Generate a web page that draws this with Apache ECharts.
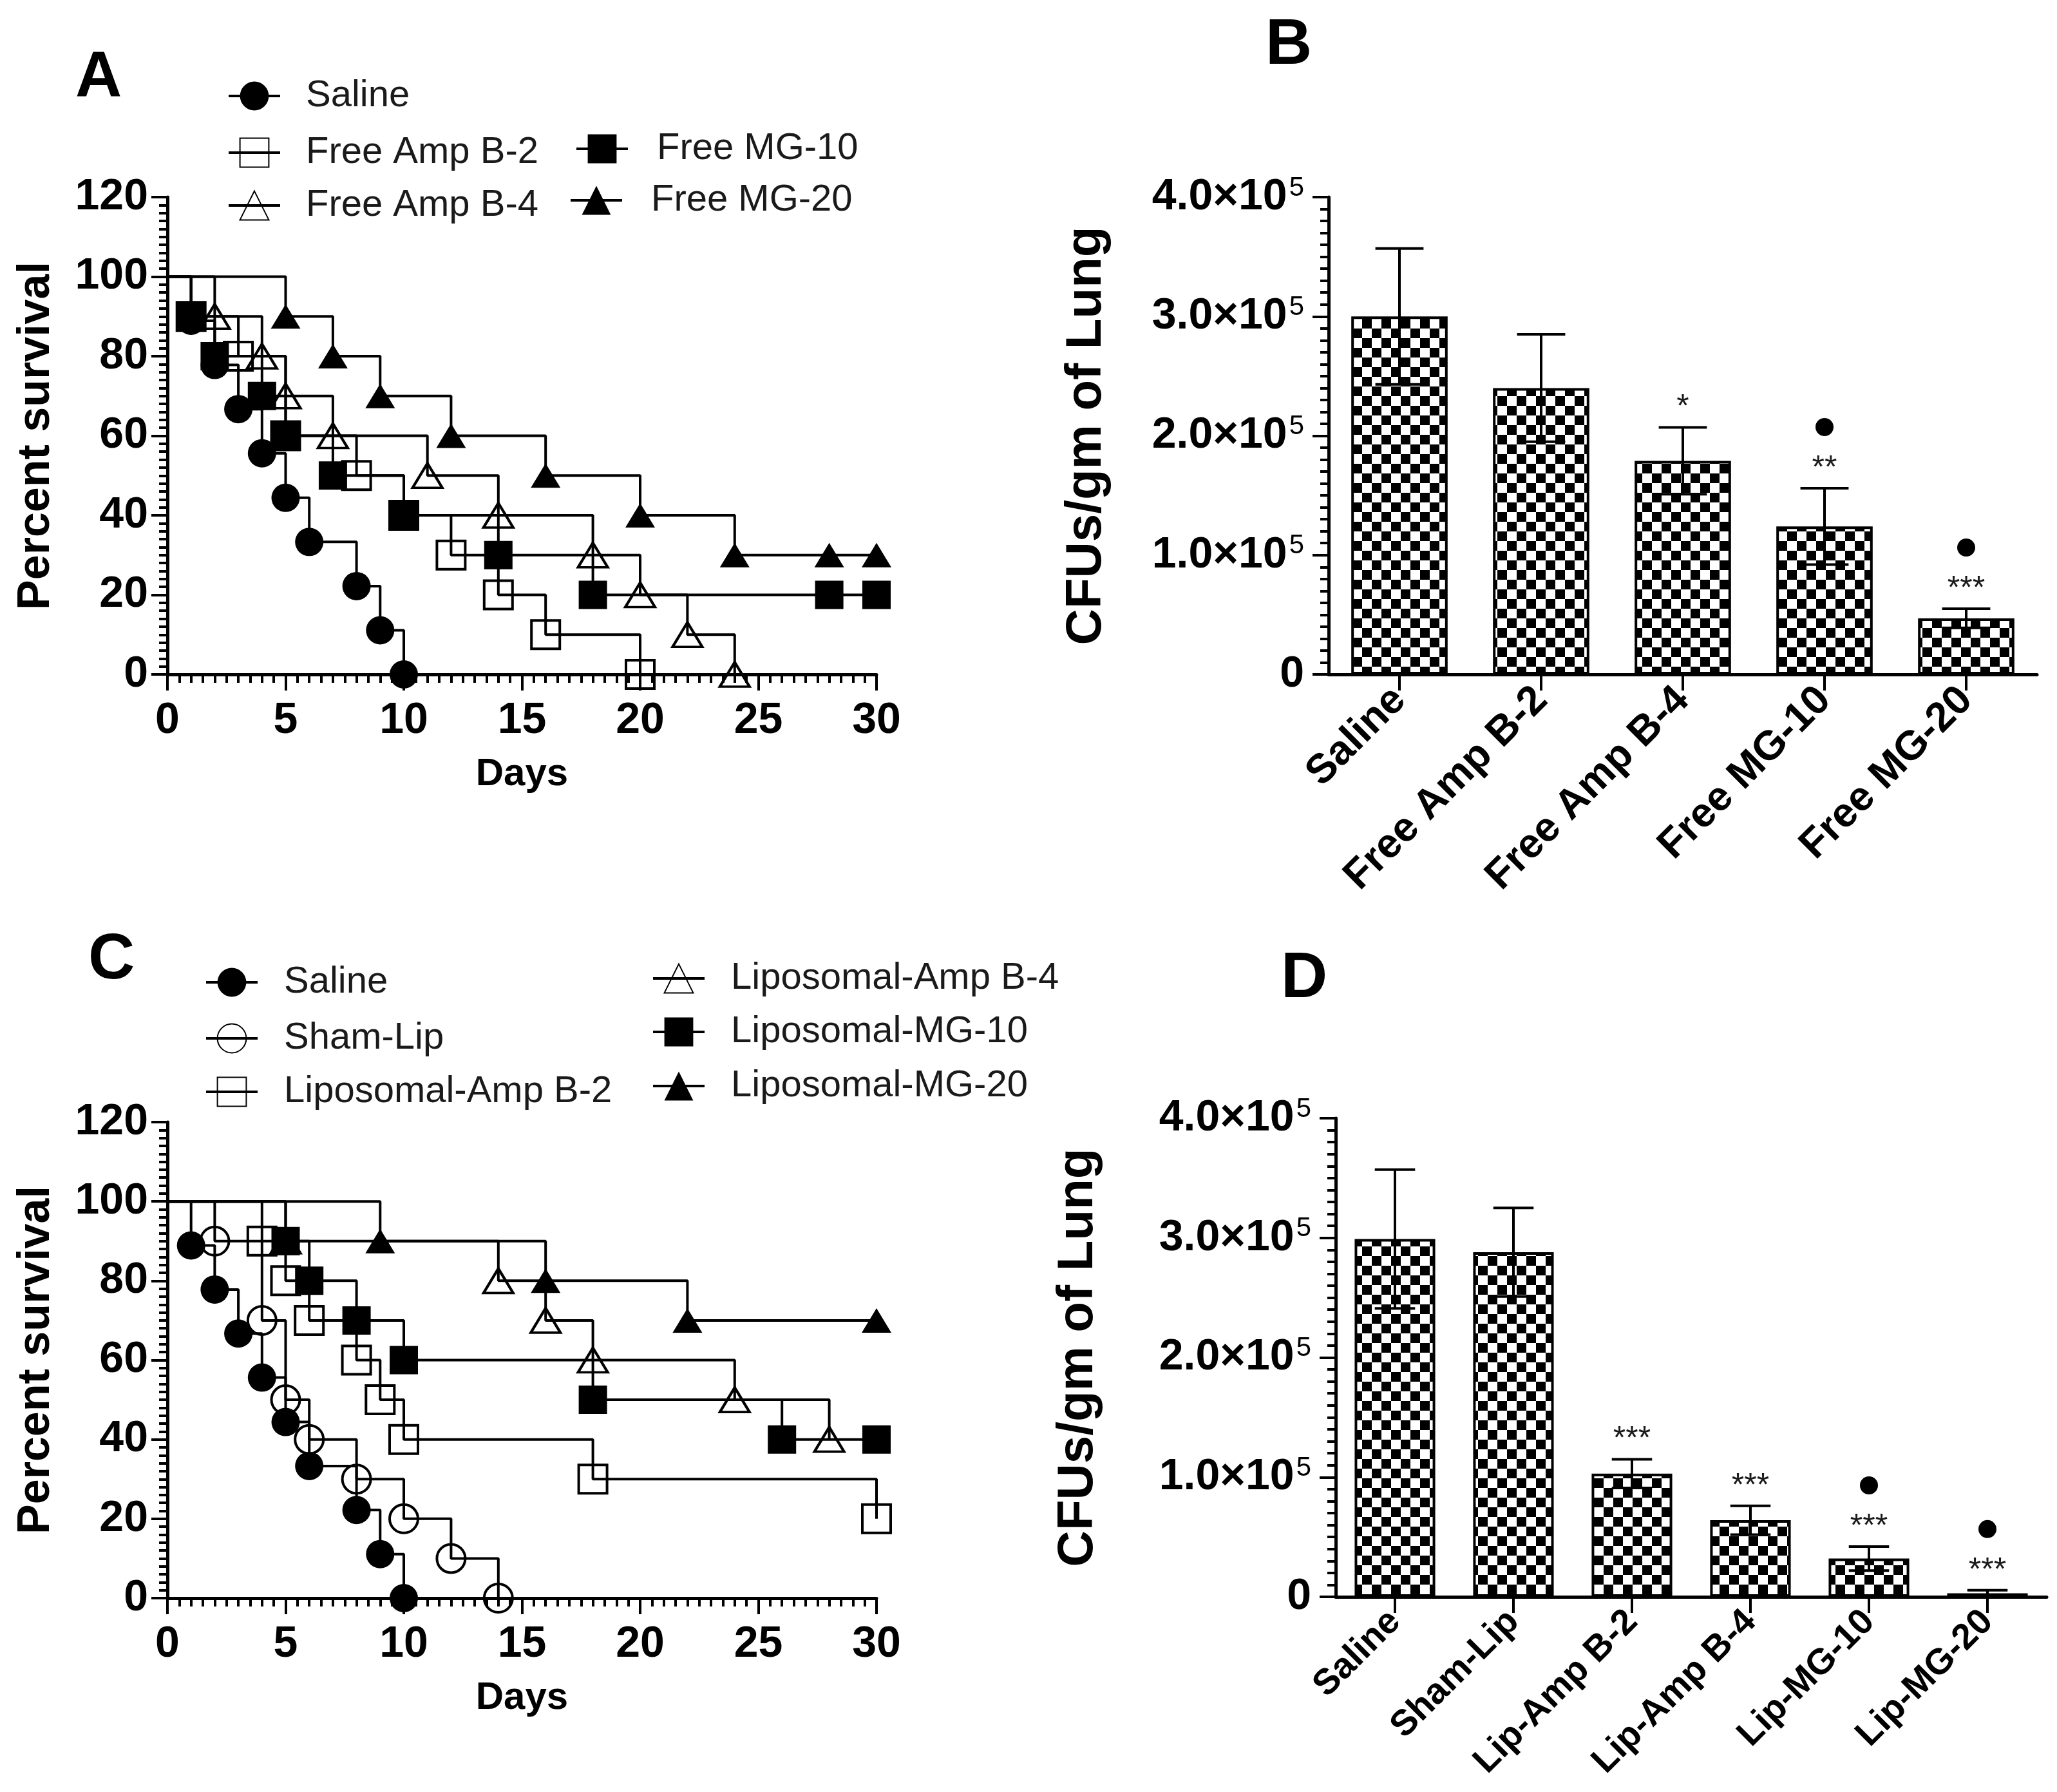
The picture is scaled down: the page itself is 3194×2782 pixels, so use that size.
<!DOCTYPE html>
<html><head><meta charset="utf-8">
<script src="https://cdn.jsdelivr.net/npm/echarts@6/dist/echarts.min.js"></script>
<style>html,body{margin:0;padding:0;background:#fff}#c{width:3194px;height:2782px}</style>
</head><body><div id="c"></div>
<script>
// ---------------- DATA ----------------
// Panel A: Kaplan-Meier survival (day, percent survival)
const A_saline   = [[0,100],[1,88.9],[2,77.8],[3,66.7],[4,55.6],[5,44.4],[6,33.3],[8,22.2],[9,11.1],[10,0]];
const A_freeAmpB2 = [[0,100],[1,90],[3,80],[5,60],[8,50],[10,40],[12,30],[14,20],[16,10],[20,0]];
const A_freeAmpB4 = [[0,100],[2,90],[4,80],[5,70],[7,60],[11,50],[14,40],[18,30],[20,20],[22,10],[24,0]];
const A_freeMG10  = [[0,100],[1,90],[2,80],[4,70],[5,60],[7,50],[10,40],[14,30],[18,20],[28,20],[30,20]];
const A_freeMG20  = [[0,100],[5,90],[7,80],[9,70],[12,60],[16,50],[20,40],[24,30],[28,30],[30,30]];
// Panel C
const C_saline    = [[0,100],[1,88.9],[2,77.8],[3,66.7],[4,55.6],[5,44.4],[6,33.3],[8,22.2],[9,11.1],[10,0]];
const C_shamLip   = [[0,100],[2,90],[4,70],[5,50],[6,40],[8,30],[10,20],[12,10],[14,0]];
const C_lipAmpB2  = [[0,100],[4,90],[5,80],[6,70],[8,60],[9,50],[10,40],[18,30],[30,20]];
const C_lipAmpB4  = [[0,100],[5,90],[14,80],[16,70],[18,60],[24,50],[28,40]];
const C_lipMG10   = [[0,100],[5,90],[6,80],[8,70],[10,60],[18,50],[26,40],[30,40]];
const C_lipMG20   = [[0,100],[9,90],[16,80],[22,70],[30,70]];
// Panel B: CFUs/gm of lung (mean, SEM)
const B_categories = ['Saline','Free Amp B-2','Free Amp B-4','Free MG-10','Free MG-20'];
const B_means  = [300000, 240000, 179000, 124000, 47000];
const B_errors = [57000, 45000, 28000, 32000, 8000];
const B_stars  = ['', '', '*', '**', '***'];
const B_dots   = [false, false, false, true, true];
// Panel D
const D_categories = ['Saline','Sham-Lip','Lip-Amp B-2','Lip-Amp B-4','Lip-MG-10','Lip-MG-20'];
const D_means  = [299000, 288000, 103000, 64000, 32000, 3000];
const D_errors = [58000, 37000, 12000, 12000, 10000, 2500];
const D_stars  = ['', '', '***', '***', '***', '***'];
const D_dots   = [false, false, false, false, true, true];
// Tick labels
const survXTicks = [0,5,10,15,20,25,30];
const survYTicks = [0,20,40,60,80,100,120];
const cfuTickMantissa = ['0','1.0×10','2.0×10','3.0×10','4.0×10'];
const cfuTickExponent = '5';

// ---------------- STYLE / BUILD ----------------
const FF = '"Liberation Sans", Arial, Helvetica, sans-serif';
const chart = echarts.init(document.getElementById('c'), null, {renderer:'canvas', width:3194, height:2782});

const pat = document.createElement('canvas');
pat.width = 30; pat.height = 30;
(function(){ const g = pat.getContext('2d'); g.fillStyle='#fff'; g.fillRect(0,0,30,30); g.fillStyle='#000'; g.fillRect(0,0,15,15); g.fillRect(15,15,15,15); })();

function km(name, data, sym, filled, ax) {
  return {
    type:'line', name, xAxisIndex:ax, yAxisIndex:ax, step:'end', clip:false,
    data: data.map((p,i)=> i===0 ? {value:p, symbol:'none'} : {value:p}),
    symbol: sym, symbolSize: sym==='triangle' ? [46,38] : 44,
    showAllSymbol:true,
    itemStyle: filled ? {color:'#000'} : {color:'rgba(255,255,255,0)', borderColor:'#000', borderWidth:4},
    lineStyle:{color:'#000', width:4},
    emphasis:{disabled:true}, animation:false
  };
}

function survX(grid, idx) {
  return {type:'value', gridIndex:grid, min:0, max:30, interval:5,
    axisLine:{show:true, onZero:false, lineStyle:{color:'#000', width:5}},
    axisTick:{show:true, length:25, lineStyle:{color:'#000', width:4}},
    minorTick:{show:true, splitNumber:10, length:13, lineStyle:{color:'#000', width:4}},
    splitLine:{show:false},
    axisLabel:{fontSize:68, fontWeight:'bold', color:'#000', fontFamily:FF, margin:38,
      formatter:v=> survXTicks.indexOf(v)>=0 ? String(v) : ''},
    name:'Days', nameLocation:'middle', nameGap:125,
    nameTextStyle:{fontSize:60, fontWeight:'bold', color:'#000', fontFamily:FF}};
}
function survY(grid) {
  return {type:'value', gridIndex:grid, min:0, max:120, interval:20,
    axisLine:{show:true, onZero:false, lineStyle:{color:'#000', width:5}},
    axisTick:{show:true, length:25, lineStyle:{color:'#000', width:4}},
    minorTick:{show:true, splitNumber:10, length:13, lineStyle:{color:'#000', width:4}},
    splitLine:{show:false},
    axisLabel:{fontSize:68, fontWeight:'bold', color:'#000', fontFamily:FF, margin:30,
      formatter:v=> survYTicks.indexOf(v)>=0 ? String(v) : ''},
    name:'Percent survival', nameLocation:'middle', nameGap:168,
    nameTextStyle:{fontSize:70, fontWeight:'bold', color:'#000', fontFamily:FF}};
}
function catX(grid, cats, fs) {
  return {type:'category', gridIndex:grid, data:cats,
    axisLine:{show:true, lineStyle:{color:'#000', width:5}},
    axisTick:{show:true, alignWithLabel:true, length:25, lineStyle:{color:'#000', width:4}},
    axisLabel:{rotate:45, interval:0, fontSize:fs, fontWeight:'bold', color:'#000', fontFamily:FF, margin:30},
    splitLine:{show:false}};
}
function cfuY(grid, gap) {
  return {type:'value', gridIndex:grid, min:0, max:400000, interval:100000,
    axisLine:{show:true, onZero:false, lineStyle:{color:'#000', width:5}},
    axisTick:{show:true, length:25, lineStyle:{color:'#000', width:4}},
    minorTick:{show:true, splitNumber:10, length:13, lineStyle:{color:'#000', width:4}},
    splitLine:{show:false},
    axisLabel:{margin:38, color:'#000', fontFamily:FF,
      formatter:v=>{ const i=Math.round(v/100000); return i===0 ? '{m|0}' : '{m|'+cfuTickMantissa[i]+'}{s|'+cfuTickExponent+'}'; },
      rich:{m:{fontSize:68, fontWeight:'bold', color:'#000', fontFamily:FF, lineHeight:70},
            s:{fontSize:42, fontWeight:'normal', color:'#000', fontFamily:FF, verticalAlign:'top', lineHeight:42, padding:[0,0,0,3]}}},
    name:'CFUs/gm of Lung', nameLocation:'middle', nameGap:gap,
    nameTextStyle:{fontSize:78, fontWeight:'bold', color:'#000', fontFamily:FF}};
}
function bars(ax, means) {
  return {type:'bar', xAxisIndex:ax, yAxisIndex:ax, data:means, barWidth:'68%',
    itemStyle:{color:{image:pat, repeat:'repeat'}, borderColor:'#000', borderWidth:4},
    emphasis:{disabled:true}, animation:false, z:2};
}
function errBars(ax, means, errs) {
  return {type:'custom', xAxisIndex:ax, yAxisIndex:ax, animation:false, z:5,
    data: means.map((m,i)=>[i, m, errs[i]]),
    renderItem:(params, api)=>{
      const i=api.value(0), m=api.value(1), e=api.value(2);
      const t=api.coord([i, m+e]), b=api.coord([i, m-e]);
      const hw = api.size([1,0])[0]*0.68*0.25;
      const st={stroke:'#000', lineWidth:4};
      return {type:'group', children:[
        {type:'line', shape:{x1:t[0], y1:t[1], x2:b[0], y2:b[1]}, style:st},
        {type:'line', shape:{x1:t[0]-hw, y1:t[1], x2:t[0]+hw, y2:t[1]}, style:st},
        {type:'line', shape:{x1:b[0]-hw, y1:b[1], x2:b[0]+hw, y2:b[1]}, style:st}
      ]};
    }};
}
function annots(ax, means, errs, stars, dots) {
  return {type:'custom', xAxisIndex:ax, yAxisIndex:ax, animation:false, z:6,
    data: means.map((m,i)=>[i, m+errs[i]]),
    renderItem:(params, api)=>{
      const k=params.dataIndex;
      const p=api.coord([api.value(0), api.value(1)]);
      const ch=[];
      if (stars[k]) ch.push({type:'text', x:p[0], y:p[1]-30,
        style:{text:stars[k], fill:'#1a1a1a', fontSize:50, fontFamily:FF,
               align:'center', verticalAlign:'middle', textAlign:'center', textVerticalAlign:'middle'}});
      if (dots[k]) ch.push({type:'circle', shape:{cx:p[0], cy:p[1]-95, r:14}, style:{fill:'#000'}});
      return {type:'group', children:ch};
    }};
}
function leg(name, cx, cy, textX) {
  return {data:[name], left:cx-40, top:cy-28, padding:0, itemWidth:80, itemHeight:56, itemGap:0,
    selectedMode:false, orient:'horizontal',
    lineStyle:{width:4, color:'#000'},
    textStyle:{fontSize:58, color:'#1a1a1a', fontFamily:FF, padding:[0,0,0,textX-(cx+40)-5]}};
}

const option = {
  backgroundColor:'#fff', animation:false,
  grid:[
    {left:260, top:306, width:1101, height:741},
    {left:2063, top:306, width:1100, height:741},
    {left:260, top:1742, width:1101, height:739},
    {left:2074, top:1736, width:1104, height:743}
  ],
  xAxis:[survX(0), catX(1, B_categories, 64), survX(2), catX(3, D_categories, 56)],
  yAxis:[survY(0), cfuY(1, 337), survY(2), cfuY(3, 361)],
  legend:[
    leg('Saline', 393, 148, 473), leg('Free Amp B-2', 393, 236, 473), leg('Free Amp B-4', 393, 318, 473),
    leg('Free MG-10', 933, 230, 1018), leg('Free MG-20', 924, 310, 1009),
    leg('Saline', 358, 1524, 439), leg('Sham-Lip', 358, 1611, 439), leg('Liposomal-Amp B-2', 358, 1694, 439),
    leg('Liposomal-Amp B-4', 1052, 1518, 1133), leg('Liposomal-MG-10', 1052, 1601, 1133), leg('Liposomal-MG-20', 1052, 1685, 1133)
  ],
  graphic:[
    {type:'text', x:153, y:122, style:{text:'A', fontSize:100, fontWeight:'bold', fontFamily:FF, fill:'#000', align:'center', verticalAlign:'middle', textAlign:'center', textVerticalAlign:'middle'}},
    {type:'text', x:2001, y:71, style:{text:'B', fontSize:100, fontWeight:'bold', fontFamily:FF, fill:'#000', align:'center', verticalAlign:'middle', textAlign:'center', textVerticalAlign:'middle'}},
    {type:'text', x:173, y:1491, style:{text:'C', fontSize:100, fontWeight:'bold', fontFamily:FF, fill:'#000', align:'center', verticalAlign:'middle', textAlign:'center', textVerticalAlign:'middle'}},
    {type:'text', x:2025, y:1520, style:{text:'D', fontSize:100, fontWeight:'bold', fontFamily:FF, fill:'#000', align:'center', verticalAlign:'middle', textAlign:'center', textVerticalAlign:'middle'}}
  ],
  series:[
    km('Saline', A_saline, 'circle', true, 0),
    km('Free Amp B-2', A_freeAmpB2, 'rect', false, 0),
    km('Free Amp B-4', A_freeAmpB4, 'triangle', false, 0),
    km('Free MG-10', A_freeMG10, 'rect', true, 0),
    km('Free MG-20', A_freeMG20, 'triangle', true, 0),
    bars(1, B_means), errBars(1, B_means, B_errors), annots(1, B_means, B_errors, B_stars, B_dots),
    km('Saline', C_saline, 'circle', true, 2),
    km('Sham-Lip', C_shamLip, 'circle', false, 2),
    km('Liposomal-Amp B-2', C_lipAmpB2, 'rect', false, 2),
    km('Liposomal-Amp B-4', C_lipAmpB4, 'triangle', false, 2),
    km('Liposomal-MG-10', C_lipMG10, 'rect', true, 2),
    km('Liposomal-MG-20', C_lipMG20, 'triangle', true, 2),
    bars(3, D_means), errBars(3, D_means, D_errors), annots(3, D_means, D_errors, D_stars, D_dots)
  ]
};
chart.setOption(option);
</script></body></html>
